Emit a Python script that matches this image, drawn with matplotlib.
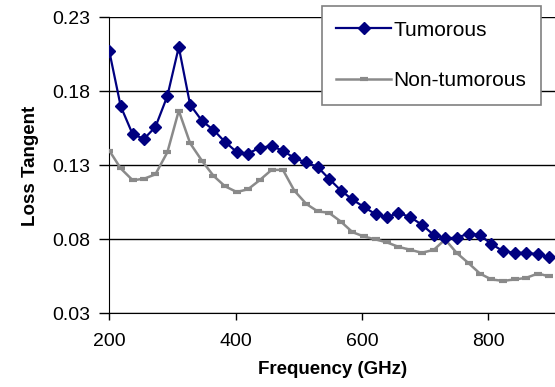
import matplotlib
matplotlib.use("Agg")
import matplotlib.pyplot as plt

# frequency points (GHz)
freq = [200, 218, 237, 255, 273, 292, 310, 328, 347, 365, 383, 402, 420,
        438, 457, 475, 493, 512, 530, 548, 567, 585, 603, 622, 640, 658,
        677, 695, 714, 732, 750, 769, 787, 805, 824, 842, 860, 879, 897]

tumorous = [0.207, 0.170, 0.151, 0.148, 0.156, 0.177, 0.210, 0.171, 0.160,
            0.154, 0.146, 0.139, 0.138, 0.142, 0.143, 0.140, 0.135, 0.132,
            0.129, 0.121, 0.113, 0.107, 0.102, 0.097, 0.095, 0.098, 0.095,
            0.090, 0.083, 0.081, 0.081, 0.084, 0.083, 0.077, 0.072, 0.071,
            0.071, 0.070, 0.068]

non_tumorous = [0.140, 0.128, 0.120, 0.121, 0.124, 0.139, 0.167, 0.145, 0.133,
                0.123, 0.116, 0.112, 0.114, 0.120, 0.127, 0.127, 0.113, 0.104,
                0.099, 0.098, 0.092, 0.085, 0.082, 0.080, 0.078, 0.075, 0.073,
                0.071, 0.073, 0.080, 0.071, 0.064, 0.057, 0.053, 0.052, 0.053,
                0.054, 0.057, 0.055]

y_ticks = [0.03, 0.08, 0.13, 0.18, 0.23]
x_ticks = [200, 400, 600, 800]

plt.rcParams["font.family"] = ["Liberation Sans", "DejaVu Sans"]

fig = plt.figure(figsize=(5.55, 3.87), dpi=100)
ax = fig.add_axes([0.197, 0.190, 0.803, 0.765])

ax.plot(freq, non_tumorous, color="#8a8a8a", lw=1.8, marker="_",
        ms=6, mew=3, label="Non-tumorous", zorder=3)
ax.plot(freq, tumorous, color="#000080", lw=1.6, marker="D",
        ms=6.6, label="Tumorous", zorder=4)

ax.set_xlim(200, 906)
ax.set_ylim(0.03, 0.23)
ax.set_xticks(x_ticks)
ax.set_yticks(y_ticks)
ax.set_yticklabels([f"{v:.2f}" for v in y_ticks])

ax.grid(axis="y", color="black", lw=1.0)
ax.set_axisbelow(True)
for side in ["top", "right"]:
    ax.spines[side].set_visible(False)

ax.tick_params(axis="y", length=7, width=1, pad=7, labelsize=14)
ax.tick_params(axis="x", length=5, width=1, pad=9, labelsize=14)

ax.set_xlabel("Frequency (GHz)", fontsize=13.5, fontweight="bold", labelpad=8)
ax.set_ylabel("Loss Tangent", fontsize=13.5, fontweight="bold", labelpad=9)

handles, labels = ax.get_legend_handles_labels()
leg = ax.legend(handles[::-1], labels[::-1], loc="upper right",
                bbox_to_anchor=(0.969, 1.038), fontsize=15, frameon=True,
                fancybox=False, edgecolor="#808080", framealpha=1,
                handlelength=2.6, handletextpad=0.15, labelspacing=1.5,
                borderpad=0.7, borderaxespad=0)
leg.get_frame().set_linewidth(1.2)
leg.set_zorder(10)

fig.savefig("out.png", dpi=100)
